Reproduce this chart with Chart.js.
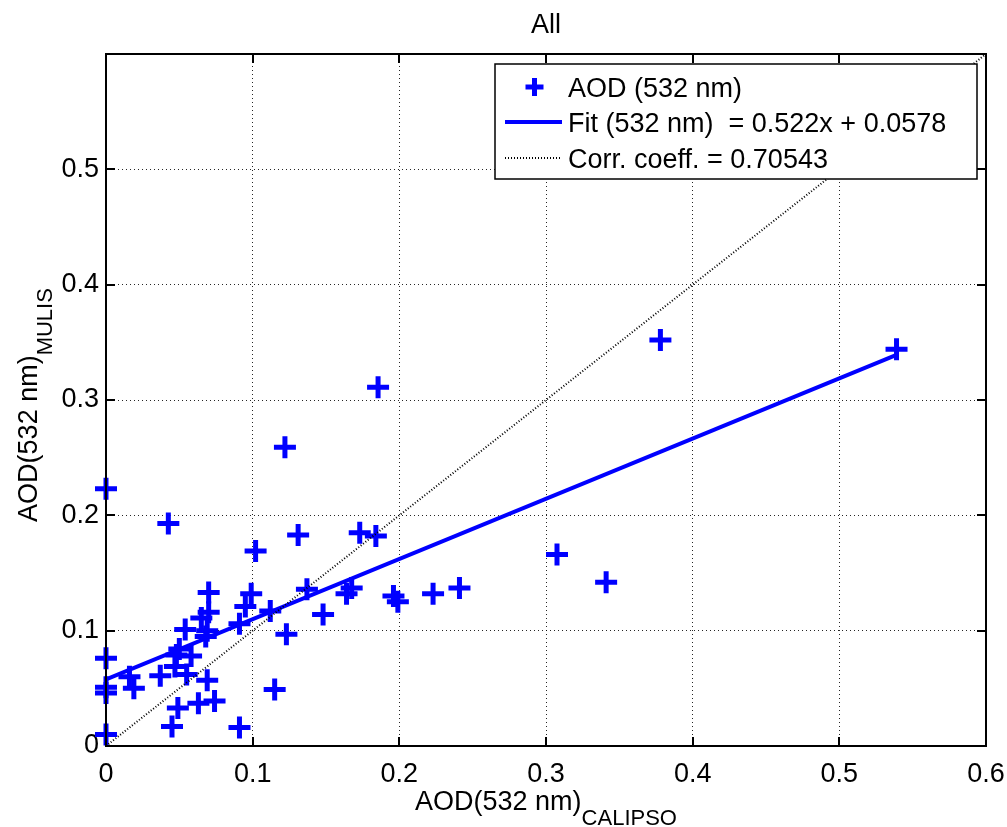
<!DOCTYPE html>
<html>
<head>
<meta charset="utf-8">
<title>All</title>
<script src="https://cdn.jsdelivr.net/npm/chart.js@4.4.1/dist/chart.umd.min.js"></script>
<style>
  html, body { margin: 0; padding: 0; background: #ffffff; }
  #wrap { width: 1007px; height: 827px; }
</style>
</head>
<body>
<div id="wrap"><canvas id="chart" width="1007" height="827"></canvas></div>
<script>
// AOD at 532 nm: CALIPSO (x) against MULIS (y)
const calipsoAOD = [0, 0, 0, 0, 0, 0.016, 0.019, 0.037, 0.0425, 0.045, 0.049, 0.063, 0.074, 0.069,
  0.055, 0.047, 0.048, 0.050, 0.058, 0.054, 0.065, 0.069, 0.068, 0.070, 0.070, 0.091, 0.095, 0.099,
  0.112, 0.123, 0.115, 0.091, 0.102, 0.122, 0.131, 0.1855, 0.173, 0.184, 0.137, 0.148, 0.164,
  0.1675, 0.196, 0.199, 0.223, 0.241, 0.3075, 0.341, 0.378, 0.539];
const mulisAOD = [0.223, 0.076, 0.051, 0.046, 0.010, 0.060, 0.050, 0.061, 0.193, 0.017, 0.033, 0.037,
  0.039, 0.057, 0.062, 0.069, 0.079, 0.084, 0.078, 0.101, 0.111, 0.100, 0.095, 0.116, 0.133, 0.106,
  0.121, 0.132, 0.117, 0.097, 0.049, 0.016, 0.169, 0.259, 0.183, 0.311, 0.185, 0.182, 0.136, 0.114,
  0.132, 0.137, 0.130, 0.125, 0.132, 0.137, 0.166, 0.142, 0.352, 0.344];

// Linear fit and correlation
const FIT_SLOPE = 0.522;
const FIT_INTERCEPT = 0.0578;
const CORR_COEFF = 0.70543;

// Axis range and ticks
const AXIS_MIN = 0;
const AXIS_MAX = 0.6;
const TICK_STEP = 0.1;
const yHiddenTickLabels = [0.6];

const chartTitle = 'All';
const xTitleMain = 'AOD(532 nm)';
const xTitleSub = 'CALIPSO';
const yTitleMain = 'AOD(532 nm)';
const yTitleSub = 'MULIS';
const seriesLabel = 'AOD (532 nm)';
const fitLabel = 'Fit (532 nm)  = ' + FIT_SLOPE + 'x + ' + FIT_INTERCEPT;
const corrLabel = 'Corr. coeff. = ' + CORR_COEFF;

const BLUE = '#0000ff';
const FONT_FAMILY = "'Liberation Sans', Arial, Helvetica, sans-serif";
const FONT_SIZE = 27;
const SUB_SIZE = 22;
const TICK_LEN = 9;

const points = calipsoAOD.map((x, i) => ({ x: x, y: mulisAOD[i] }));
const xFitEnd = Math.max(...calipsoAOD);
const fitPoints = [
  { x: 0, y: FIT_INTERCEPT },
  { x: xFitEnd, y: FIT_INTERCEPT + FIT_SLOPE * xFitEnd }
];
const identityPoints = [
  { x: AXIS_MIN, y: AXIS_MIN },
  { x: AXIS_MAX, y: AXIS_MAX }
];

function fontStr(size) { return size + 'px ' + FONT_FAMILY; }

function drawSubscripted(ctx, main, sub, cx, baseY) {
  ctx.font = fontStr(FONT_SIZE);
  const w1 = ctx.measureText(main).width;
  ctx.font = fontStr(SUB_SIZE);
  const w2 = ctx.measureText(sub).width;
  const start = cx - (w1 + w2) / 2;
  ctx.textAlign = 'left';
  ctx.textBaseline = 'alphabetic';
  ctx.font = fontStr(FONT_SIZE);
  ctx.fillText(main, start, baseY);
  ctx.font = fontStr(SUB_SIZE);
  ctx.fillText(sub, start + w1, baseY + 15);
}

// Box, inward tick marks, titles and in-plot legend
const decorations = {
  id: 'decorations',
  afterDatasetsDraw(chart) {
    const { ctx, chartArea: a, scales } = chart;
    const xs = scales.x, ys = scales.y;
    ctx.save();
    ctx.setLineDash([]);
    ctx.strokeStyle = '#000';
    ctx.lineWidth = 2;
    ctx.strokeRect(a.left, a.top, a.right - a.left, a.bottom - a.top);
    ctx.beginPath();
    xs.ticks.forEach(t => {
      const px = Math.round(xs.getPixelForValue(t.value));
      ctx.moveTo(px, a.bottom); ctx.lineTo(px, a.bottom - TICK_LEN);
      ctx.moveTo(px, a.top); ctx.lineTo(px, a.top + TICK_LEN);
    });
    ys.ticks.forEach(t => {
      const py = Math.round(ys.getPixelForValue(t.value));
      ctx.moveTo(a.left, py); ctx.lineTo(a.left + TICK_LEN, py);
      ctx.moveTo(a.right, py); ctx.lineTo(a.right - TICK_LEN, py);
    });
    ctx.stroke();
    ctx.restore();
  },
  afterDraw(chart) {
    const { ctx, chartArea: a } = chart;
    const cx = (a.left + a.right) / 2;
    const cy = (a.top + a.bottom) / 2;
    ctx.save();
    ctx.fillStyle = '#000';

    // title
    ctx.font = fontStr(FONT_SIZE);
    ctx.textAlign = 'center';
    ctx.textBaseline = 'alphabetic';
    ctx.fillText(chartTitle, cx, 33);

    // axis titles
    drawSubscripted(ctx, xTitleMain, xTitleSub, cx, 810);
    ctx.save();
    ctx.translate(37, cy + 5);
    ctx.rotate(-Math.PI / 2);
    drawSubscripted(ctx, yTitleMain, yTitleSub, 0, 0);
    ctx.restore();

    // legend box
    const bx = a.right - 491, by = a.top + 10, bw = 482, bh = 115;
    ctx.fillStyle = '#fff';
    ctx.fillRect(bx, by, bw, bh);
    ctx.strokeStyle = '#000';
    ctx.lineWidth = 1.5;
    ctx.setLineDash([]);
    ctx.strokeRect(bx, by, bw, bh);

    const rowBase = [by + 33, by + 68, by + 104];
    const sampleL = bx + 10, sampleR = bx + 67, textX = bx + 73;
    chart.data.datasets.forEach((ds, i) => {
      const base = rowBase[i];
      const mid = base - 10;
      ctx.save();
      ctx.strokeStyle = ds.borderColor;
      if (ds.showLine === false) {
        const mx = (sampleL + sampleR) / 2 + 1, r = 9;
        ctx.lineWidth = 5;
        ctx.beginPath();
        ctx.moveTo(mx - r, mid); ctx.lineTo(mx + r, mid);
        ctx.moveTo(mx, mid - r); ctx.lineTo(mx, mid + r);
        ctx.stroke();
      } else {
        ctx.lineWidth = ds.borderWidth;
        ctx.setLineDash(ds.borderDash || []);
        ctx.beginPath();
        ctx.moveTo(sampleL, mid); ctx.lineTo(sampleR, mid);
        ctx.stroke();
      }
      ctx.restore();
      ctx.fillStyle = '#000';
      ctx.font = fontStr(FONT_SIZE);
      ctx.textAlign = 'left';
      ctx.textBaseline = 'alphabetic';
      ctx.fillText(ds.label, textX, base);
    });
    ctx.restore();
  }
};

Chart.defaults.font.family = FONT_FAMILY;
Chart.defaults.font.size = FONT_SIZE;
Chart.defaults.color = '#000';

const gridStyle = {
  color: 'rgba(0,0,0,0.85)',
  lineWidth: 1,
  drawTicks: false
};

new Chart(document.getElementById('chart'), {
  type: 'scatter',
  data: {
    datasets: [
      {
        label: seriesLabel,
        data: points,
        showLine: false,
        pointStyle: 'cross',
        pointRadius: 11,
        pointBorderWidth: 5,
        borderColor: BLUE,
        backgroundColor: BLUE,
        clip: false,
        order: 3
      },
      {
        label: fitLabel,
        data: fitPoints,
        showLine: true,
        borderColor: BLUE,
        borderWidth: 4,
        pointRadius: 0,
        order: 2
      },
      {
        label: corrLabel,
        data: identityPoints,
        showLine: true,
        borderColor: '#000',
        borderWidth: 2,
        borderDash: [1, 2],
        pointRadius: 0,
        order: 1
      }
    ]
  },
  options: {
    responsive: false,
    animation: false,
    events: [],
    devicePixelRatio: 1,
    layout: { padding: { top: 54, right: 21, left: 0, bottom: 0 } },
    plugins: {
      legend: { display: false },
      title: { display: false },
      tooltip: { enabled: false }
    },
    scales: {
      x: {
        type: 'linear',
        min: AXIS_MIN,
        max: AXIS_MAX,
        grid: gridStyle,
        border: { display: false, dash: [1, 3] },
        ticks: { stepSize: TICK_STEP, padding: 12, maxRotation: 0, autoSkip: false },
        afterFit(scale) {
          scale.height = 81;
          scale.paddingLeft = 0;
          scale.paddingRight = 0;
        }
      },
      y: {
        type: 'linear',
        min: AXIS_MIN,
        max: AXIS_MAX,
        grid: gridStyle,
        border: { display: false, dash: [1, 3] },
        ticks: {
          stepSize: TICK_STEP,
          padding: 7,
          autoSkip: false,
          callback(value) {
            if (yHiddenTickLabels.some(v => Math.abs(v - value) < 1e-9)) return '';
            return Chart.Ticks.formatters.numeric.apply(this, arguments);
          }
        },
        afterFit(scale) {
          scale.width = 106;
          scale.paddingTop = 0;
          scale.paddingBottom = 0;
        }
      }
    }
  },
  plugins: [decorations]
});
</script>
</body>
</html>
